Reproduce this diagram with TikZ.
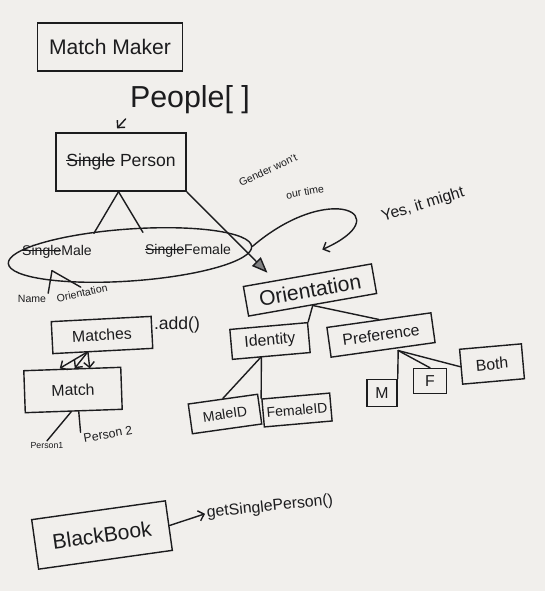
\documentclass[tikz,border=0pt]{standalone}
\usepackage{fontspec}
\setmainfont{Liberation Sans}
\usetikzlibrary{shapes,arrows.meta,positioning,calc}
\definecolor{paper}{RGB}{241,239,236}
\definecolor{ink}{RGB}{28,28,30}
\newcommand{\struck}[1]{\begingroup\setbox0\hbox{#1}\rlap{\copy0}\rule[0.3em]{\wd0}{0.07em}\endgroup}
\tikzset{
    sketch/.style   = {draw=ink, line width=0.8pt, line cap=round},
    classbox/.style = {rectangle, sketch, text=ink, inner sep=2pt, font=\large},
    note/.style     = {text=ink, inner sep=1pt},
    tinynote/.style = {note, font=\fontsize{6}{7}\selectfont},
    link/.style     = {sketch},
    call/.style     = {sketch, -{Straight Barb[length=3pt,width=6pt]}},
    hatch/.style    = {sketch, -{Triangle[length=9pt,width=7pt,fill=ink!55]}}
}

\begin{document}
\begin{tikzpicture}[x=0.02cm, y=-0.02cm]
        % Paper
        \fill[paper] (0,0) rectangle (545,591);
        \useasboundingbox (0,0) rectangle (545,591);

        % Top Classes
        \node[classbox, minimum width=2.9cm, minimum height=0.96cm] (matchmaker) at (110,47) {Match Maker};
        \node[note, font=\LARGE] (people) at (190,100) {People[~]};
        \node[classbox, font=\normalsize, minimum width=2.6cm, minimum height=1.16cm] (person) at (121,162) {\struck{Single} Person};

        % Gender Group
        \node[note, font=\footnotesize] (male) at (57,252) {\struck{Single}Male};
        \node[note, font=\footnotesize] (female) at (188,251) {\struck{Single}Female};
        \node[ellipse, sketch, minimum width=4.88cm, minimum height=1.04cm, rotate=4] (genders) at (130,255) {};
        \node[tinynote] (name) at (32,299) {Name};
        \node[tinynote, rotate=12] (maleorient) at (82,293) {Orientation};

        % Remarks
        \node[tinynote, rotate=25] (gendernote) at (268,170) {Gender won't};
        \node[tinynote, rotate=10] (timenote) at (305,192) {our time};
        \node[note, font=\small, rotate=17] (yesnote) at (423,205) {Yes, it might};

        % Orientation Tree
        \node[classbox, minimum width=2.6cm, minimum height=0.6cm, rotate=10] (orient) at (310,290) {Orientation};
        \node[classbox, font=\small, minimum width=1.56cm, minimum height=0.6cm, rotate=5] (identity) at (270,341) {Identity};
        \node[classbox, font=\small, minimum width=2.1cm, minimum height=0.6cm, rotate=8] (pref) at (381,335) {Preference};
        \node[classbox, font=\footnotesize, minimum width=1.4cm, minimum height=0.6cm, rotate=8] (maleid) at (225,414) {MaleID};
        \node[classbox, font=\footnotesize, minimum width=1.36cm, minimum height=0.56cm, rotate=5] (femaleid) at (297,410) {FemaleID};
        \node[classbox, font=\small, minimum width=0.6cm, minimum height=0.54cm] (optm) at (382,393) {M};
        \node[classbox, font=\small, minimum width=0.66cm, minimum height=0.5cm] (optf) at (430,381) {F};
        \node[classbox, font=\small, minimum width=1.24cm, minimum height=0.7cm, rotate=5] (optboth) at (492,364) {Both};

        % Matches
        \node[classbox, font=\small, minimum width=2.0cm, minimum height=0.64cm, rotate=3] (matches) at (102,335) {Matches};
        \node[note] (addcall) at (177,325) {.add()};
        \node[classbox, font=\small, minimum width=1.94cm, minimum height=0.84cm, rotate=2] (match) at (73,390) {Match};
        \node[note, font=\fontsize{5}{6}\selectfont] (person1) at (47,446) {Person1};
        \node[note, font=\scriptsize, rotate=10] (person2) at (108,434) {Person 2};

        % Black Book
        \node[classbox, minimum width=2.7cm, minimum height=1.0cm, rotate=8] (blackbook) at (102,535) {BlackBook};
        \node[note, font=\small, rotate=6] (getsingle) at (270,507) {getSinglePerson()};

        % Connectors
        \draw[call, shorten <=2pt, shorten >=3pt] (people.south west) -- ([xshift=-0.15cm]person.north);
        \draw[link] ([xshift=-0.05cm]person.south) -- ([yshift=0.2cm]male.north east);
        \draw[link] ([xshift=-0.05cm]person.south) -- ([yshift=0.2cm]female.north west);
        \draw[hatch, shorten >=6pt] (person.south east) -- ($(orient.north)!0.5!(orient.north west)$);
        \draw[call] (genders.east) .. controls (330,180) and (400,215) .. ([shift={(0.3cm,0.5cm)}]orient.north);
        \draw[link] ([shift={(-0.1cm,-0.2cm)}]male.south) -- (name.north east);
        \draw[link] ([shift={(-0.1cm,-0.2cm)}]male.south) -- (maleorient.north);

        \draw[link] (orient.south) -- (identity.north east);
        \draw[link] (orient.south) -- (pref.north);
        \draw[link] ([xshift=-0.2cm]identity.south) -- (maleid.north);
        \draw[link] ([xshift=-0.2cm]identity.south) -- (femaleid.north west);
        \draw[link] ([xshift=0.3cm]pref.south) -- (optm.north east);
        \draw[link] ([xshift=0.3cm]pref.south) -- (optf.north);
        \draw[link] ([xshift=0.3cm]pref.south) -- (optboth.west);

        \draw[call] ([xshift=-0.3cm]matches.south) -- ([xshift=-0.25cm]match.north);
        \draw[call] ([xshift=-0.3cm]matches.south) -- ([xshift=0.05cm]match.north);
        \draw[call] ([xshift=-0.3cm]matches.south) -- ([xshift=0.35cm]match.north);
        \draw[link] ([xshift=-0.05cm]match.south) -- (person1.north);
        \draw[link] ([xshift=0.1cm]match.south) -- (person2.north west);

        \draw[call] (blackbook.east) -- (getsingle.west);

    \end{tikzpicture}
\end{document}
